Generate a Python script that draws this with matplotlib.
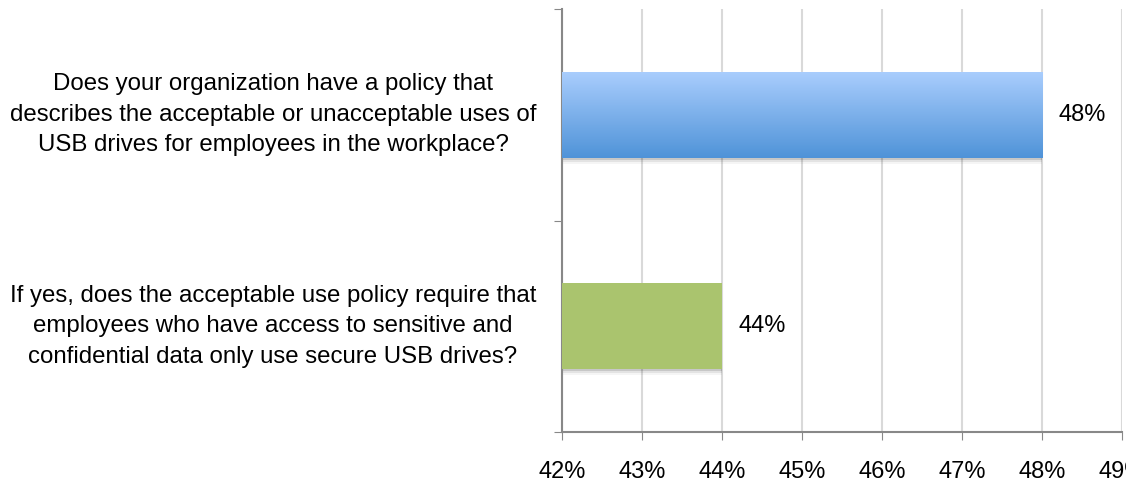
import numpy as np
import matplotlib.pyplot as plt
from matplotlib.colors import LinearSegmentedColormap

questions = [
    "Does your organization have a policy that\ndescribes the acceptable or unacceptable uses of\nUSB drives for employees in the workplace?",
    "If yes, does the acceptable use policy require that\nemployees who have access to sensitive and\nconfidential data only use secure USB drives?",
]
values = [48, 44]
xticks = [42, 43, 44, 45, 46, 47, 48, 49]

plt.rcParams['font.family'] = ['Liberation Sans', 'DejaVu Sans']

fig = plt.figure(figsize=(11.26, 4.82), dpi=100)
ax = fig.add_axes([0.4991, 0.1037, 0.4974, 0.8776])

ypos = [1.5, 0.5]
h = 0.405
xmin = 42

# soft shadow under the bars
for y, v in zip(ypos, values):
    for k, a in enumerate([0.12, 0.07, 0.04]):
        d = 0.01 * (k + 1)
        ax.barh(y - d, v - xmin, left=xmin, height=h, color='black', alpha=a,
                edgecolor='none', zorder=2)

bars = ax.barh(ypos, [v - xmin for v in values], left=xmin, height=h,
               color=['#4f93d8', '#aac46e'], edgecolor='none', zorder=3)

# gradient on the first bar
cmap = LinearSegmentedColormap.from_list('g', ['#4f93d8', '#a9cdfd'])
b = bars[0]
grad = np.linspace(0, 1, 256).reshape(-1, 1)
im = ax.imshow(grad, cmap=cmap, aspect='auto', origin='lower',
               extent=[b.get_x(), b.get_x() + b.get_width(),
                       b.get_y(), b.get_y() + b.get_height()], zorder=4)
im.set_clip_path(b)

for y, v in zip(ypos, values):
    ax.text(v + 0.21, y, f"{v}%", va='center', ha='left', fontsize=17, color='black')

ax.set_xlim(42, 49)
ax.set_ylim(0, 2)
ax.set_xticks(xticks)
ax.set_xticklabels([f"{t}%" for t in xticks], fontsize=17)
ax.tick_params(axis='x', length=6, color='#888888', pad=15)
ax.set_yticks([0, 1, 2])
ax.set_yticklabels([])
ax.tick_params(axis='y', length=6, color='#888888')
ax.grid(axis='x', color='#d9d9d9', linewidth=1.5, zorder=0)
ax.set_axisbelow(True)
for s in ['top', 'right']:
    ax.spines[s].set_visible(False)
for s in ['left', 'bottom']:
    ax.spines[s].set_color('#888888')
    ax.spines[s].set_linewidth(1.5)

# question labels, centred lines to the left of the axis
for y, q in zip(ypos, questions):
    ax.text(-0.516, y / 2, q, transform=ax.transAxes, ha='center', va='center',
            multialignment='center', fontsize=17.3, linespacing=1.5)

fig.savefig('out.png', dpi=100)
